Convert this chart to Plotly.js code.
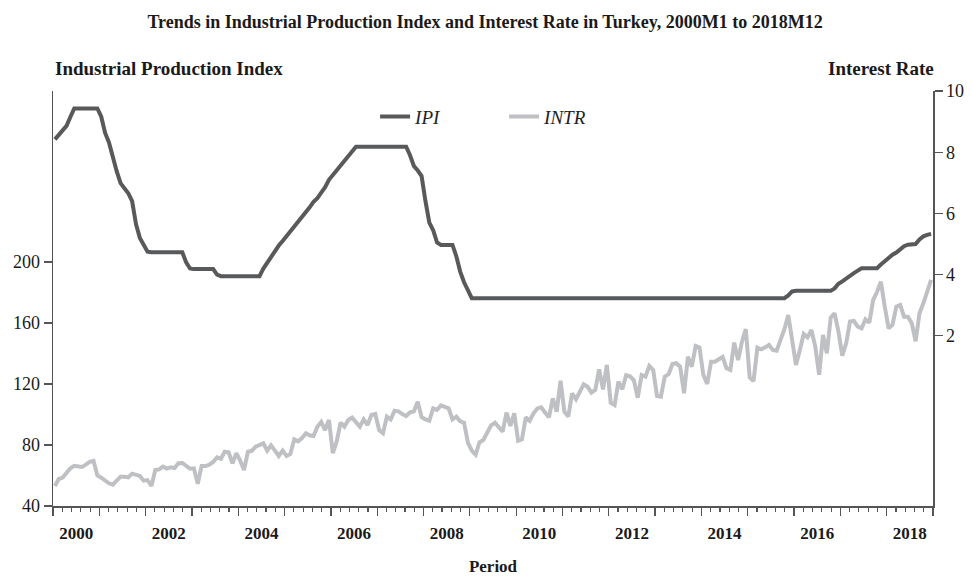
<!DOCTYPE html>
<html>
<head>
<meta charset="utf-8">
<script src="https://cdn.plot.ly/plotly-3.0.1.min.js"></script>
<style>html,body{margin:0;padding:0;background:#fff;}#chart{width:972px;height:576px;}</style>
</head>
<body>
<div id="chart"></div>
<script>
// ---- Data (monthly, 2000M1 .. 2018M12) ----
const years = [2000,2001,2002,2003,2004,2005,2006,2007,2008,2009,2010,2011,2012,2013,2014,2015,2016,2017,2018];
const yearLabels = ["2000","2002","2004","2006","2008","2010","2012","2014","2016","2018"];

// Dark series (legend "IPI"), read against right axis
const ipiValues = [
  8.42, 8.58, 8.70, 8.86, 9.15, 9.43, 9.43, 9.43, 9.43, 9.43, 9.43, 9.43,
  9.16, 8.63, 8.32, 7.80, 7.38, 6.99, 6.80, 6.66, 6.40, 5.65, 5.20, 4.95,
  4.75, 4.73, 4.73, 4.73, 4.73, 4.73, 4.73, 4.73, 4.73, 4.73, 4.40, 4.20,
  4.18, 4.18, 4.18, 4.18, 4.18, 4.18, 4.00, 3.95, 3.95, 3.95, 3.95, 3.95,
  3.95, 3.95, 3.95, 3.95, 3.95, 3.95, 4.20, 4.40, 4.60, 4.80, 4.95, 5.10,
  5.25, 5.40, 5.60, 5.75, 5.90, 6.05, 6.20, 6.38, 6.50, 6.68, 6.86, 7.10,
  7.25, 7.42, 7.57, 7.72, 7.88, 8.03, 8.18, 8.18, 8.18, 8.18, 8.18, 8.18,
  8.18, 8.18, 8.18, 8.18, 8.18, 8.18, 8.18, 8.18, 7.90, 7.55, 7.40, 7.22,
  6.40, 5.70, 5.45, 5.05, 4.97, 4.97, 4.97, 4.97, 4.60, 4.10, 3.75, 3.45,
  3.23, 3.23, 3.23, 3.23, 3.23, 3.23, 3.23, 3.23, 3.23, 3.23, 3.23, 3.23,
  3.23, 3.23, 3.23, 3.23, 3.23, 3.23, 3.23, 3.23, 3.23, 3.23, 3.23, 3.23,
  3.23, 3.23, 3.23, 3.23, 3.23, 3.23, 3.23, 3.23, 3.23, 3.23, 3.23, 3.23,
  3.23, 3.23, 3.23, 3.23, 3.23, 3.23, 3.23, 3.23, 3.23, 3.23, 3.23, 3.23,
  3.23, 3.23, 3.23, 3.23, 3.23, 3.23, 3.23, 3.23, 3.23, 3.23, 3.23, 3.23,
  3.23, 3.23, 3.23, 3.23, 3.23, 3.23, 3.23, 3.23, 3.23, 3.23, 3.23, 3.23,
  3.23, 3.23, 3.23, 3.23, 3.23, 3.23, 3.23, 3.23, 3.23, 3.23, 3.32, 3.45,
  3.47, 3.47, 3.47, 3.47, 3.47, 3.47, 3.47, 3.47, 3.47, 3.47, 3.55, 3.70,
  3.78, 3.88, 3.98, 4.05, 4.13, 4.21, 4.21, 4.21, 4.21, 4.21, 4.33, 4.45,
  4.56, 4.65, 4.72, 4.82, 4.93, 4.98, 4.98, 5.00, 5.15, 5.25, 5.30, 5.33
];

// Light series (legend "INTR"), read against left axis
const intrValues = [
  53.1, 57.7, 58.6, 61.4, 64.7, 66.4, 66.2, 65.6, 67.1, 68.9, 69.5, 60.0,
  58.6, 56.6, 54.9, 54.0, 57.0, 59.2, 59.2, 58.8, 61.2, 60.5, 59.7, 56.6,
  57.0, 53.1, 63.6, 64.0, 65.8, 64.5, 65.4, 64.9, 68.0, 68.2, 66.7, 64.5,
  64.7, 54.5, 66.2, 66.2, 67.1, 68.9, 71.9, 71.0, 75.6, 75.2, 68.0, 74.6,
  69.7, 63.6, 75.6, 76.1, 78.9, 80.2, 81.1, 76.3, 79.8, 76.3, 72.8, 76.3,
  72.8, 74.1, 83.7, 82.4, 84.6, 87.7, 86.4, 85.9, 92.0, 95.1, 89.8, 96.4,
  74.6, 82.2, 94.6, 92.0, 96.4, 97.9, 94.6, 92.0, 96.8, 93.1, 99.7, 100.3,
  89.8, 87.7, 98.6, 96.8, 102.5, 102.1, 100.3, 99.0, 101.4, 102.1, 108.4, 98.2,
  96.8, 95.9, 104.0, 103.0, 106.0, 104.7, 104.0, 96.8, 98.6, 95.5, 94.6, 81.5,
  76.3, 73.7, 81.8, 83.3, 87.7, 92.9, 94.6, 91.6, 88.7, 101.2, 92.5, 100.8,
  82.8, 83.7, 98.2, 95.9, 100.8, 104.0, 104.7, 101.2, 98.2, 110.6, 101.8, 122.2,
  101.8, 98.6, 113.9, 110.0, 115.0, 119.8, 118.2, 114.3, 116.1, 129.6, 116.5, 132.5,
  107.7, 106.2, 121.5, 116.5, 125.7, 125.0, 122.4, 111.0, 125.9, 124.8, 131.8, 129.2,
  112.1, 111.7, 124.8, 126.4, 133.1, 133.6, 131.3, 113.9, 137.9, 131.3, 144.9, 144.0,
  125.9, 120.0, 134.6, 134.6, 136.2, 137.7, 130.3, 129.2, 147.1, 135.7, 147.7, 156.0,
  124.4, 122.0, 143.8, 142.7, 144.0, 145.6, 142.3, 141.8, 148.9, 155.9, 165.2, 146.7,
  132.5, 142.3, 152.8, 150.6, 155.4, 144.5, 126.0, 152.1, 140.1, 163.5, 166.4, 154.3,
  138.6, 146.7, 160.9, 161.3, 157.6, 156.5, 162.4, 160.2, 175.1, 180.3, 187.0, 170.7,
  156.5, 158.7, 170.7, 171.8, 164.1, 164.1, 159.8, 148.0, 166.4, 172.9, 180.5, 188.2
];

const leftTicks = [40, 80, 120, 160, 200];
const rightTicks = [2, 4, 6, 8, 10];

// ---- Build time positions for each month (year + month fraction) ----
const periods = [];
const xPos = [];
years.forEach(function (y) {
  for (let m = 1; m <= 12; m++) {
    periods.push(y + "M" + m);
    xPos.push(y + (m - 0.5) / 12);
  }
});
const labelPos = yearLabels.map(function (s) { return Number(s) + 0.5; });

const SERIF = "Liberation Serif, Times New Roman, serif";
const AX = "#555555";

const traces = [
  {
    x: xPos, y: intrValues, customdata: periods, name: "INTR",
    type: "scatter", mode: "lines", xaxis: "x", yaxis: "y",
    line: { color: "#bfc0c3", width: 4 }
  },
  {
    x: xPos, y: ipiValues, customdata: periods, name: "IPI",
    type: "scatter", mode: "lines", xaxis: "x", yaxis: "y2",
    line: { color: "#58595b", width: 4 }
  },
  {
    x: [], y: [], xaxis: "x2", yaxis: "y", showlegend: false,
    type: "scatter", mode: "lines", hoverinfo: "skip"
  }
];

const layout = {
  width: 972, height: 576,
  margin: { l: 53, r: 39, t: 91, b: 70, pad: 0 },
  paper_bgcolor: "#ffffff", plot_bgcolor: "#ffffff",
  showlegend: true,
  title: {
    text: "Trends in Industrial Production Index and Interest Rate in Turkey, 2000M1 to 2018M12",
    font: { family: SERIF, size: 18, color: "#1a1a1a", weight: "bold" },
    x: 0.499, xref: "container", xanchor: "center",
    y: 0.963, yref: "container", yanchor: "middle"
  },
  legend: {
    orientation: "h", traceorder: "reversed",
    x: 0.366, xanchor: "left", y: 0.984, yanchor: "top",
    font: { family: SERIF, size: 19, color: "#222", style: "italic" },
    entrywidth: 84, entrywidthmode: "pixels",
    bgcolor: "rgba(0,0,0,0)"
  },
  xaxis: {
    range: [2000, 2019], tickmode: "linear", tick0: 2000, dtick: 1,
    showticklabels: false, ticks: "outside", ticklen: 8, tickwidth: 1.3, tickcolor: AX,
    minor: { tick0: 2000, dtick: 0.2, ticks: "outside", ticklen: 4, tickwidth: 1.1, tickcolor: AX, showgrid: false },
    showline: true, linecolor: AX, linewidth: 1.5, showgrid: false, zeroline: false,
    title: { text: "Period", font: { family: SERIF, size: 17, color: "#1a1a1a", weight: "bold" }, standoff: 45 },
    automargin: false
  },
  xaxis2: {
    range: [2000, 2019], overlaying: "x", anchor: "y", side: "bottom",
    tickmode: "array", tickvals: labelPos, ticktext: yearLabels, ticks: "",
    ticklabelstandoff: 15,
    tickfont: { family: SERIF, size: 17, color: "#1a1a1a", weight: "bold" },
    showline: false, showgrid: false, zeroline: false, automargin: false
  },
  yaxis: {
    range: [40, 312.1], tickmode: "array", tickvals: leftTicks,
    ticks: "outside", ticklen: 8, tickwidth: 1.3, tickcolor: AX,
    tickfont: { family: SERIF, size: 18, color: "#1a1a1a" },
    showline: true, linecolor: AX, linewidth: 1.5, showgrid: false, zeroline: false,
    automargin: false
  },
  yaxis2: {
    range: [-3.56, 10], overlaying: "y", side: "right", anchor: "x",
    tickmode: "array", tickvals: rightTicks,
    ticks: "outside", ticklen: 8, tickwidth: 1.3, tickcolor: AX,
    tickfont: { family: SERIF, size: 18, color: "#1a1a1a" },
    showline: true, linecolor: AX, linewidth: 1.5, showgrid: false, zeroline: false,
    automargin: false
  },
  annotations: [
    {
      text: "Industrial Production Index", xref: "paper", yref: "paper",
      x: 0, xanchor: "left", y: 1.055, yanchor: "middle", showarrow: false,
      font: { family: SERIF, size: 19, color: "#1a1a1a", weight: "bold" }
    },
    {
      text: "Interest Rate", xref: "paper", yref: "paper",
      x: 1.003, xanchor: "right", y: 1.055, yanchor: "middle", showarrow: false,
      font: { family: SERIF, size: 19, color: "#1a1a1a", weight: "bold" }
    }
  ]
};

Plotly.newPlot("chart", traces, layout, { displayModeBar: false, staticPlot: true });
</script>
</body>
</html>
